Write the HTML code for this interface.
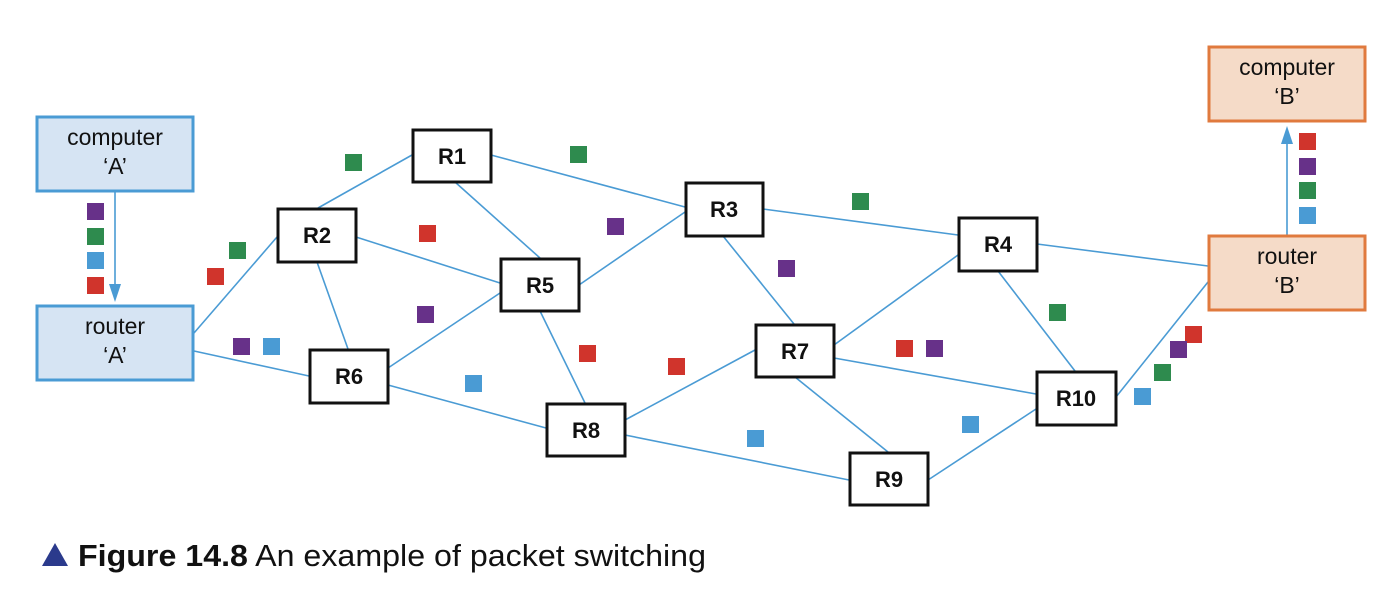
<!DOCTYPE html>
<html><head><meta charset="utf-8"><style>
body{margin:0;background:#fff;}
svg{display:block}
</style></head><body>
<svg width="1384" height="590" viewBox="0 0 1384 590" xmlns="http://www.w3.org/2000/svg" font-family="Liberation Sans, sans-serif">
<g stroke="#4a9bd4" stroke-width="1.6" fill="none">
<line x1="194" y1="333" x2="277" y2="237"/>
<line x1="194" y1="351" x2="309" y2="376"/>
<line x1="318" y1="208" x2="412" y2="155"/>
<line x1="356" y1="237" x2="500" y2="283"/>
<line x1="317" y1="262" x2="348" y2="349"/>
<line x1="455" y1="182" x2="540" y2="258"/>
<line x1="491" y1="155" x2="685" y2="207"/>
<line x1="579" y1="285" x2="685" y2="212"/>
<line x1="388" y1="368" x2="500" y2="293"/>
<line x1="388" y1="385" x2="546" y2="428"/>
<line x1="540" y1="311" x2="585" y2="403"/>
<line x1="723" y1="236" x2="794" y2="324"/>
<line x1="763" y1="209" x2="958" y2="235"/>
<line x1="625" y1="420" x2="755" y2="350"/>
<line x1="625" y1="435" x2="849" y2="480"/>
<line x1="834" y1="358" x2="1036" y2="394"/>
<line x1="795" y1="377" x2="888" y2="452"/>
<line x1="834" y1="345" x2="958" y2="255"/>
<line x1="1037" y1="244" x2="1208" y2="266"/>
<line x1="998" y1="271" x2="1075" y2="371"/>
<line x1="1116" y1="397" x2="1208" y2="282"/>
<line x1="928" y1="480" x2="1036" y2="409"/>
<line x1="115" y1="192" x2="115" y2="290"/>
<line x1="1287" y1="235" x2="1287" y2="138"/>
</g>
<polygon points="109,284 121,284 115,302" fill="#4a9bd4"/>
<polygon points="1281,144 1293,144 1287,126" fill="#4a9bd4"/>
<g stroke-width="3">
<rect x="37" y="117" width="156" height="74" fill="#d6e4f3" stroke="#4a9bd4"/>
<rect x="37" y="306" width="156" height="74" fill="#d6e4f3" stroke="#4a9bd4"/>
<rect x="1209" y="47" width="156" height="74" fill="#f5dbc8" stroke="#e07a3e"/>
<rect x="1209" y="236" width="156" height="74" fill="#f5dbc8" stroke="#e07a3e"/>
</g>
<g font-size="23" text-anchor="middle" fill="#111">
<text x="115" y="145">computer</text><text x="115" y="174">‘A’</text>
<text x="115" y="334">router</text><text x="115" y="363">‘A’</text>
<text x="1287" y="75">computer</text><text x="1287" y="104">‘B’</text>
<text x="1287" y="264">router</text><text x="1287" y="293">‘B’</text>
</g>
<g fill="#fff" stroke="#111" stroke-width="3">
<rect x="278" y="209" width="78" height="53"/>
<rect x="413" y="130" width="78" height="52"/>
<rect x="310" y="350" width="78" height="53"/>
<rect x="501" y="259" width="78" height="52"/>
<rect x="686" y="183" width="77" height="53"/>
<rect x="959" y="218" width="78" height="53"/>
<rect x="756" y="325" width="78" height="52"/>
<rect x="547" y="404" width="78" height="52"/>
<rect x="850" y="453" width="78" height="52"/>
<rect x="1037" y="372" width="79" height="53"/>
</g>
<g font-size="22" font-weight="bold" text-anchor="middle" fill="#111">
<text x="317" y="243">R2</text><text x="452" y="164">R1</text><text x="349" y="384">R6</text>
<text x="540" y="293">R5</text><text x="724" y="217">R3</text><text x="998" y="252">R4</text>
<text x="795" y="359">R7</text><text x="586" y="438">R8</text><text x="889" y="487">R9</text>
<text x="1076" y="406">R10</text>
</g>
<g>
<g fill="#2e8b4e">
<rect x="345" y="154" width="17" height="17"/><rect x="570" y="146" width="17" height="17"/>
<rect x="852" y="193" width="17" height="17"/><rect x="229" y="242" width="17" height="17"/>
<rect x="1049" y="304" width="17" height="17"/><rect x="87" y="228" width="17" height="17"/>
<rect x="1299" y="182" width="17" height="17"/><rect x="1154" y="364" width="17" height="17"/>
</g>
<g fill="#d0342c">
<rect x="419" y="225" width="17" height="17"/><rect x="207" y="268" width="17" height="17"/>
<rect x="579" y="345" width="17" height="17"/><rect x="668" y="358" width="17" height="17"/>
<rect x="896" y="340" width="17" height="17"/><rect x="87" y="277" width="17" height="17"/>
<rect x="1299" y="133" width="17" height="17"/><rect x="1185" y="326" width="17" height="17"/>
</g>
<g fill="#673189">
<rect x="607" y="218" width="17" height="17"/><rect x="778" y="260" width="17" height="17"/>
<rect x="417" y="306" width="17" height="17"/><rect x="233" y="338" width="17" height="17"/>
<rect x="926" y="340" width="17" height="17"/><rect x="87" y="203" width="17" height="17"/>
<rect x="1299" y="158" width="17" height="17"/><rect x="1170" y="341" width="17" height="17"/>
</g>
<g fill="#4a9bd4">
<rect x="263" y="338" width="17" height="17"/><rect x="465" y="375" width="17" height="17"/>
<rect x="747" y="430" width="17" height="17"/><rect x="962" y="416" width="17" height="17"/>
<rect x="87" y="252" width="17" height="17"/><rect x="1299" y="207" width="17" height="17"/>
<rect x="1134" y="388" width="17" height="17"/>
</g>
</g>
<polygon points="42,566 55,543 68,566" fill="#2b3a8c"/>
<text x="78" y="566" font-size="31" fill="#111" textLength="628" lengthAdjust="spacingAndGlyphs"><tspan font-weight="bold">Figure 14.8</tspan> An example of packet switching</text>
</svg>
</body></html>
